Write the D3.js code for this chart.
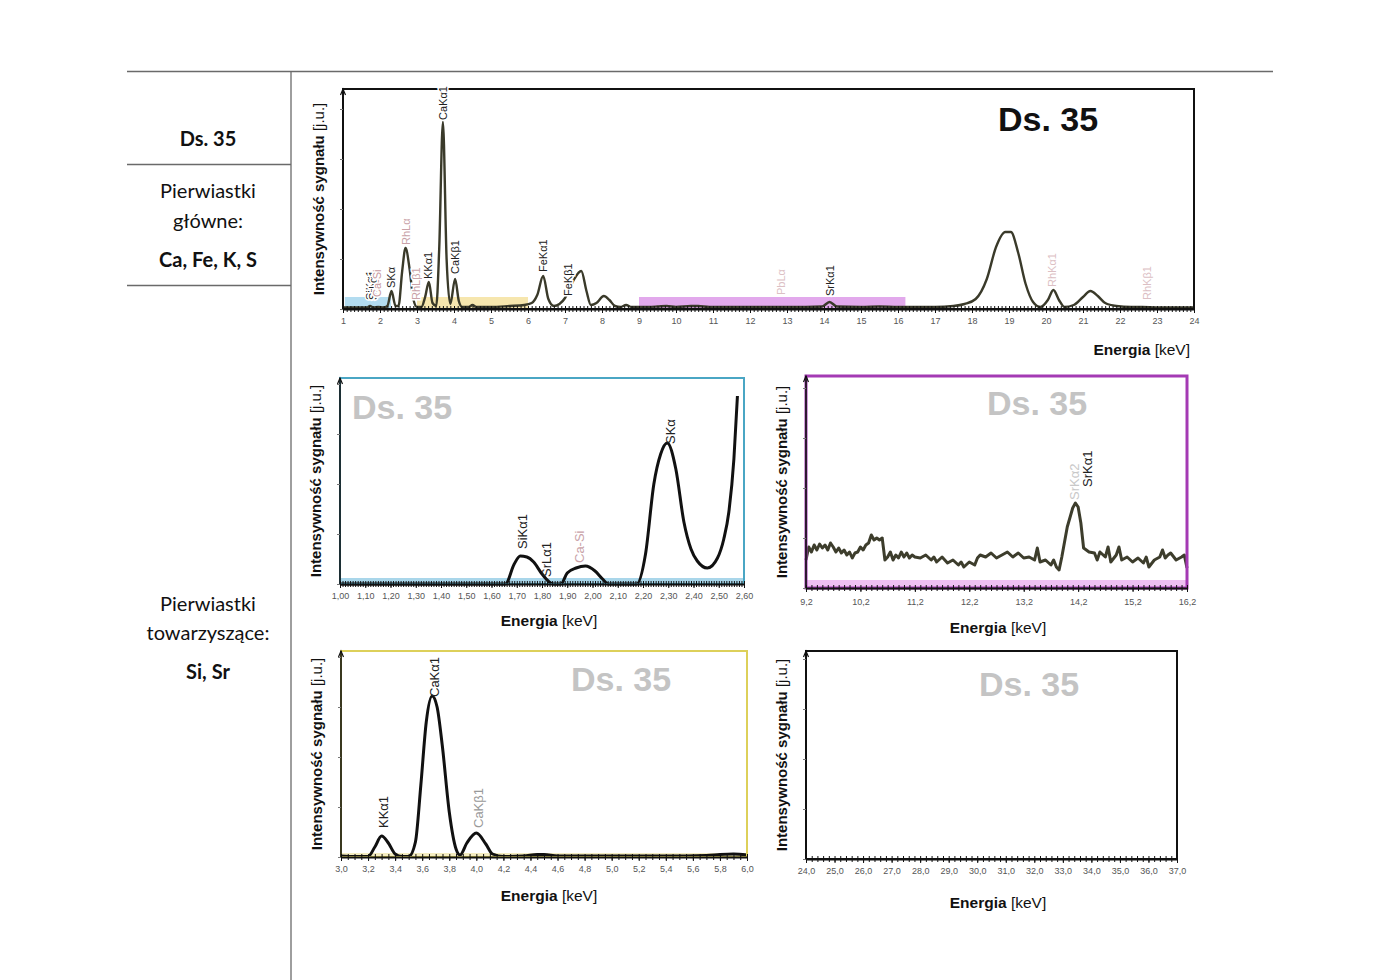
<!DOCTYPE html>
<html><head><meta charset="utf-8">
<script src="https://cdn.jsdelivr.net/npm/d3@7"></script>
<style>body{margin:0;background:#fff}svg{display:block}</style>
</head><body><svg id="c" width="1400" height="980"></svg>
<script>
// ---------------- DATA ----------------
const sampleName = "Ds. 35";
const mainElementsLabel = ["Pierwiastki", "główne:"];
const mainElements = "Ca, Fe, K, S";
const traceElementsLabel = ["Pierwiastki", "towarzyszące:"];
const traceElements = "Si, Sr";

// full spectrum: [energy keV, intensity a.u.]
const mainSpectrum = [
[1.0,1.5],[1.5,1.5],[1.65,1.5],[1.73,3],[1.82,1.5],[1.95,2],[2.1,1.5],[2.2,3],[2.31,18],[2.42,3],[2.5,3],
[2.6,38],[2.69,61],[2.8,40],[2.9,10],[3.0,2],[3.12,2],[3.22,12],[3.32,27],[3.42,6],[3.52,3],[3.6,60],
[3.7,187],[3.8,50],[3.9,5],[4.03,30],[4.13,8],[4.22,2],[4.4,2],[4.5,4],[4.6,2],[5.0,2],[5.5,3],[5.9,4],
[6.1,6],[6.25,14],[6.41,33],[6.55,10],[6.7,3],[6.85,5],[7.0,11],[7.12,20],[7.25,30],[7.44,38],[7.58,18],
[7.7,4],[7.85,6],[8.05,13],[8.2,9],[8.35,3],[8.5,2],[8.65,4],[8.8,2],[9.1,2],[9.5,2.5],[9.75,3],[10.0,2],
[10.4,3],[10.6,3],[10.9,2],[11.5,2],[12.0,2],[12.5,2],[13.0,2],[13.5,2],[13.95,2.5],[14.15,7],[14.35,2.5],
[15.0,2],[15.5,2.5],[16.0,2],[16.5,2],[17.0,2],[17.5,3],[17.8,5],[18.1,10],[18.4,30],[18.65,62],[18.9,77],
[19.05,77],[19.25,56],[19.45,25],[19.65,7],[19.85,2],[20.05,9],[20.2,19],[20.35,9],[20.5,2],[20.75,4],
[21.0,12],[21.2,18],[21.4,13],[21.6,6],[21.9,3],[22.3,2],[22.6,2],[23.0,1.5],[24.0,1.5]
];
const mainBands = [
  {from:1.05, to:2.3, color:"#b3dcf0"},
  {from:3.0, to:6.0, color:"#f6e6ae"},
  {from:9.0, to:16.2, color:"#e2a9ec"}
];
const mainPeakLabels = [
  {t:"SiKα1", e:1.72, v:9, c:"#222"},
  {t:"SrLα1", e:1.82, v:9, c:"#222"},
  {t:"Ca-Si", e:1.92, v:12, c:"#c79aa0"},
  {t:"SKα", e:2.30, v:21, c:"#222"},
  {t:"RhLα", e:2.69, v:64, c:"#c9a2a8"},
  {t:"RhLβ1", e:2.97, v:9, c:"#c9a2a8"},
  {t:"KKα1", e:3.30, v:30, c:"#222"},
  {t:"CaKα1", e:3.69, v:189, c:"#222"},
  {t:"CaKβ1", e:4.03, v:35, c:"#222"},
  {t:"FeKα1", e:6.41, v:37, c:"#222"},
  {t:"FeKβ1", e:7.08, v:13, c:"#222"},
  {t:"PbLα", e:12.84, v:14, c:"#dcc0c4"},
  {t:"SrKα1", e:14.16, v:13, c:"#222"},
  {t:"RhKα1", e:20.16, v:22, c:"#dcc0c4"},
  {t:"RhKβ1", e:22.73, v:9, c:"#dcc0c4"}
];

// zoom 1.00 - 2.60 keV
const blueSpectrum = [
[1.00,0],[1.30,0],[1.60,0],[1.655,0],[1.69,20],[1.714,28],[1.74,27],[1.767,22],[1.80,10],[1.845,0],[1.875,0],
[1.90,11],[1.935,16],[1.972,18],[2.01,13],[2.04,5],[2.063,0],[2.10,0],[2.175,0],[2.21,30],[2.243,100],[2.27,130],
[2.296,141],[2.33,115],[2.362,62],[2.39,35],[2.415,23],[2.455,16],[2.495,26],[2.52,45],[2.54,72],[2.56,125],[2.574,188]
];
const bluePeakLabels = [
  {t:"SiKα1", e:1.72, v:35, c:"#222"},
  {t:"SrLα1", e:1.815, v:7, c:"#222"},
  {t:"Ca-Si", e:1.947, v:21, c:"#c9a2a8"},
  {t:"SKα", e:2.307, v:140, c:"#222"}
];

// zoom 9.2 - 16.2 keV
const purpleSpectrum = [
[9.2,28],[9.25,41],[9.3,36],[9.35,43],[9.4,38],[9.45,44],[9.5,40],[9.55,43],[9.6,38],[9.65,45],[9.7,41],[9.75,36],
[9.8,40],[9.85,35],[9.9,38],[9.95,33],[10.0,36],[10.05,30],[10.1,35],[10.15,36],[10.2,41],[10.25,38],[10.3,43],
[10.35,45],[10.4,53],[10.45,48],[10.5,50],[10.55,48],[10.6,50],[10.65,28],[10.7,31],[10.75,36],[10.8,28],[10.85,33],
[10.9,30],[10.95,36],[11.0,31],[11.05,35],[11.1,30],[11.15,33],[11.2,31],[11.3,30],[11.4,33],[11.5,28],[11.55,31],
[11.6,26],[11.7,31],[11.8,25],[11.9,28],[12.0,23],[12.05,26],[12.1,21],[12.2,26],[12.3,23],[12.35,30],[12.4,33],
[12.5,31],[12.6,35],[12.7,30],[12.8,33],[12.9,36],[13.0,31],[13.1,35],[13.2,30],[13.3,31],[13.4,28],[13.45,40],
[13.5,26],[13.6,28],[13.7,23],[13.75,28],[13.8,21],[13.85,18],[13.9,31],[14.0,61],[14.1,80],[14.15,85],[14.2,81],
[14.25,65],[14.3,40],[14.4,36],[14.5,35],[14.55,28],[14.6,36],[14.7,31],[14.75,41],[14.8,26],[14.9,33],[14.95,41],
[15.0,28],[15.1,31],[15.2,26],[15.3,30],[15.4,25],[15.45,31],[15.5,21],[15.6,28],[15.7,31],[15.75,38],[15.8,30],
[15.85,33],[15.9,35],[16.0,28],[16.1,31],[16.15,33],[16.2,20]
];
const purplePeakLabels = [
  {t:"SrKα2", e:14.13, v:88, c:"#c8c8c8"},
  {t:"SrKα1", e:14.37, v:101, c:"#222"}
];

// zoom 3.0 - 6.0 keV
const yellowSpectrum = [
[3.0,1],[3.1,0.5],[3.2,0.5],[3.25,10],[3.30,21],[3.35,14],[3.40,3],[3.45,0.5],[3.50,0.5],[3.55,15],[3.59,72],
[3.63,135],[3.673,161],[3.71,150],[3.748,112],[3.80,45],[3.85,8],[3.88,2],[3.93,14],[4.0,24],[4.07,13],[4.12,3],
[4.2,0.5],[4.35,1],[4.45,2.5],[4.5,2.5],[4.6,1],[4.8,1],[5.0,1],[5.4,1],[5.7,1.5],[5.8,2.5],[5.9,3],[6.0,2]
];
const yellowPeakLabels = [
  {t:"KKα1", e:3.31, v:29, c:"#222"},
  {t:"CaKα1", e:3.687, v:160, c:"#222"},
  {t:"CaKβ1", e:4.01, v:29, c:"#999"}
];

// zoom 24 - 37 keV (no peaks)
const blackSpectrum = [];

const mainTicks = d3.range(1, 25, 1);
const blueTicks = d3.range(0, 17).map(i => 1 + i * 0.1);
const purpleTicks = d3.range(0, 8).map(i => 9.2 + i);
const yellowTicks = d3.range(0, 16).map(i => 3 + i * 0.2);
const blackTicks = d3.range(24, 38, 1);

const yTitleBold = "Intensywność sygnału";
const yTitleUnit = " [j.u.]";
const xTitleBold = "Energia";
const xTitleUnit = " [keV]";

// ---------------- DRAW ----------------
const svg = d3.select("#c");
const pl = d3.formatLocale({decimal: ",", thousands: " ", grouping: [3], currency: ["", ""]});
const narrow = "'Liberation Sans Narrow','Arial Narrow','Liberation Sans',Arial,sans-serif";
const arial = "'Liberation Sans',Arial,sans-serif";
const leftFont = "Lato,'Open Sans',sans-serif";

// table lines
const g0 = svg.append("g").attr("stroke", "#6a6a6a").attr("stroke-width", 1.3);
g0.append("line").attr("x1", 127).attr("x2", 1273).attr("y1", 71.5).attr("y2", 71.5);
g0.append("line").attr("x1", 291).attr("x2", 291).attr("y1", 71).attr("y2", 980);
g0.append("line").attr("x1", 127).attr("x2", 291).attr("y1", 164.5).attr("y2", 164.5);
g0.append("line").attr("x1", 127).attr("x2", 291).attr("y1", 285.5).attr("y2", 285.5);

const lt = svg.append("g").attr("font-family", leftFont).attr("text-anchor", "middle").attr("fill", "#111").attr("font-size", 20);
lt.append("text").attr("x", 208).attr("y", 146).attr("font-weight", "bold").text(sampleName);
lt.append("text").attr("x", 208).attr("y", 198).text(mainElementsLabel[0]);
lt.append("text").attr("x", 208).attr("y", 228).text(mainElementsLabel[1]);
lt.append("text").attr("x", 208).attr("y", 267).attr("font-weight", "bold").text(mainElements);
lt.append("text").attr("x", 208).attr("y", 611).text(traceElementsLabel[0]);
lt.append("text").attr("x", 208).attr("y", 640).text(traceElementsLabel[1]);
lt.append("text").attr("x", 208).attr("y", 679).attr("font-weight", "bold").text(traceElements);

function panel(o) {
  const x = d3.scaleLinear().domain(o.domain).range([o.x0, o.x1]);
  const y = d3.scaleLinear().domain([0, o.yMax]).range([o.yBase, o.yTop]);
  const g = svg.append("g");
  // bands
  (o.bands || []).forEach(b => {
    g.append("rect").attr("x", x(b.from)).attr("width", x(b.to) - x(b.from))
      .attr("y", o.yBase - b.h).attr("height", b.h).attr("fill", b.color).attr("opacity", b.op || 1);
  });
  // watermark
  if (o.mark) {
    g.append("text").attr("x", o.mark.x).attr("y", o.mark.y).attr("font-family", arial)
      .attr("font-weight", "bold").attr("font-size", 34).attr("fill", o.mark.color).text(sampleName);
  }
  // curve
  if (o.data.length) {
    const line = d3.line().x(d => x(d[0])).y(d => y(d[1])).curve(o.curve);
    g.append("path").datum(o.data).attr("d", line).attr("fill", "none")
      .attr("stroke", o.lineColor).attr("stroke-width", o.lineWidth).attr("stroke-linejoin", "round");
  }
  // frame
  g.append("rect").attr("x", o.x0).attr("y", o.yTop).attr("width", o.x1 - o.x0).attr("height", o.yBase - o.yTop)
    .attr("fill", "none").attr("stroke", o.frame).attr("stroke-width", o.frameW);
  // left axis line w/ arrow
  g.append("line").attr("x1", o.x0).attr("x2", o.x0).attr("y1", o.yTop).attr("y2", o.yBase).attr("stroke", "#111").attr("stroke-width", 1.6);
  g.append("path").attr("d", `M${o.x0 - 2.5},${o.yTop + 6}L${o.x0},${o.yTop}L${o.x0 + 2.5},${o.yTop + 6}`).attr("fill", "none").attr("stroke", "#111").attr("stroke-width", 1.2);
  // minor ticks (dense hatch)
  const minors = d3.range(o.domain[0], o.domain[1] + 1e-9, o.minor);
  g.append("g").attr("transform", `translate(0,${o.yBase + 3})`)
    .call(d3.axisBottom(x).tickValues(minors).tickSize(6).tickFormat(""))
    .call(a => a.select(".domain").remove())
    .call(a => a.selectAll(".tick line").attr("transform", "translate(0,-6)").attr("stroke", "#111").attr("stroke-width", 1));
  // axis line + labels
  const ax = g.append("g").attr("transform", `translate(0,${o.yBase})`)
    .call(d3.axisBottom(x).tickValues(o.ticks).tickFormat(o.fmt).tickSize(4).tickSizeOuter(0));
  ax.select(".domain").attr("stroke", "#111").attr("stroke-width", 2);
  ax.selectAll(".tick line").attr("stroke", "#111");
  ax.selectAll(".tick text").attr("font-family", arial).attr("font-size", 9).attr("fill", "#555").attr("dy", o.tickDy);
  // y ticks (small)
  g.append("g").attr("transform", `translate(${o.x0},0)`)
    .call(d3.axisLeft(y).ticks(5).tickSize(3).tickFormat(""))
    .call(a => a.select(".domain").remove())
    .call(a => a.selectAll(".tick line").attr("stroke", "#777"));
  // y title
  const yt = g.append("text").attr("transform", `translate(${o.x0 - 19},${(o.yTop + o.yBase) / 2}) rotate(-90)`)
    .attr("text-anchor", "middle").attr("font-family", narrow).attr("font-size", 15).attr("fill", "#111");
  yt.append("tspan").attr("font-weight", "bold").text(yTitleBold);
  yt.append("tspan").text(yTitleUnit);
  // x title
  const xt = g.append("text").attr("x", o.xt.x).attr("y", o.xt.y).attr("text-anchor", o.xt.anchor)
    .attr("font-family", narrow).attr("font-size", 15.5).attr("fill", "#111");
  xt.append("tspan").attr("font-weight", "bold").text(xTitleBold);
  xt.append("tspan").text(xTitleUnit);
  // peak labels
  g.selectAll("text.pk").data(o.labels).join("text").attr("class", "pk")
    .attr("transform", d => `translate(${x(d.e) + o.lblShift},${y(d.v)}) rotate(-90)`)
    .attr("font-family", arial).attr("font-size", o.lblSize).attr("fill", d => d.c)
    .attr("paint-order", "stroke").attr("stroke", o.lblHalo ? "#fff" : "none").attr("stroke-width", 3)
    .text(d => d.t);
}

panel({
  x0: 343, x1: 1194, yTop: 89, yBase: 309, domain: [1, 24], yMax: 220,
  data: mainSpectrum, curve: d3.curveMonotoneX, lineColor: "#3a3a2a", lineWidth: 2.4,
  bands: mainBands.map(b => ({...b, h: 12})),
  frame: "#111", frameW: 2, minor: 0.1, ticks: mainTicks, fmt: d3.format("d"), tickDy: "0.9em",
  xt: {x: 1190, y: 355, anchor: "end"},
  labels: mainPeakLabels, lblSize: 11, lblShift: 4, lblHalo: true,
  mark: {x: 998, y: 131, color: "#111"}
});
panel({
  x0: 340, x1: 744, yTop: 378, yBase: 584, domain: [1.0, 2.6], yMax: 206,
  data: blueSpectrum, curve: d3.curveMonotoneX, lineColor: "#111", lineWidth: 3,
  bands: [{from: 1.0, to: 2.6, color: "#a9d6ea", h: 6}],
  frame: "#4aa6c4", frameW: 2, minor: 0.01, ticks: blueTicks, fmt: pl.format(".2f"), tickDy: "0.9em",
  xt: {x: 549, y: 626, anchor: "middle"},
  labels: bluePeakLabels, lblSize: 13, lblShift: 5, lblHalo: false,
  mark: {x: 352, y: 419, color: "#c4c4c4"}
});
panel({
  x0: 806, x1: 1187, yTop: 376, yBase: 588, domain: [9.2, 16.2], yMax: 212,
  data: purpleSpectrum, curve: d3.curveLinear, lineColor: "#3d3d2c", lineWidth: 3,
  bands: [{from: 9.2, to: 16.2, color: "#eec0f2", h: 8}],
  frame: "#a43ab4", frameW: 3, minor: 0.1, ticks: purpleTicks, fmt: pl.format(".1f"), tickDy: "1.1em",
  xt: {x: 998, y: 633, anchor: "middle"},
  labels: purplePeakLabels, lblSize: 13, lblShift: 5, lblHalo: false,
  mark: {x: 987, y: 415, color: "#c4c4c4"}
});
panel({
  x0: 341, x1: 747, yTop: 651, yBase: 857, domain: [3.0, 6.0], yMax: 206,
  data: yellowSpectrum, curve: d3.curveMonotoneX, lineColor: "#111", lineWidth: 3,
  bands: [{from: 3.0, to: 6.0, color: "#f4ecc0", h: 4}],
  frame: "#ddd05a", frameW: 2, minor: 0.05, ticks: yellowTicks, fmt: pl.format(".1f"), tickDy: "0.9em",
  xt: {x: 549, y: 901, anchor: "middle"},
  labels: yellowPeakLabels, lblSize: 13, lblShift: 5, lblHalo: false,
  mark: {x: 571, y: 691, color: "#c4c4c4"}
});
panel({
  x0: 806, x1: 1177, yTop: 651, yBase: 859, domain: [24, 37], yMax: 208,
  data: blackSpectrum, curve: d3.curveLinear, lineColor: "#111", lineWidth: 3,
  bands: [],
  frame: "#111", frameW: 2, minor: 0.2, ticks: blackTicks, fmt: pl.format(".1f"), tickDy: "0.9em",
  xt: {x: 998, y: 908, anchor: "middle"},
  labels: [], lblSize: 13, lblShift: 5, lblHalo: false,
  mark: {x: 979, y: 696, color: "#c4c4c4"}
});
</script>
</body></html>
